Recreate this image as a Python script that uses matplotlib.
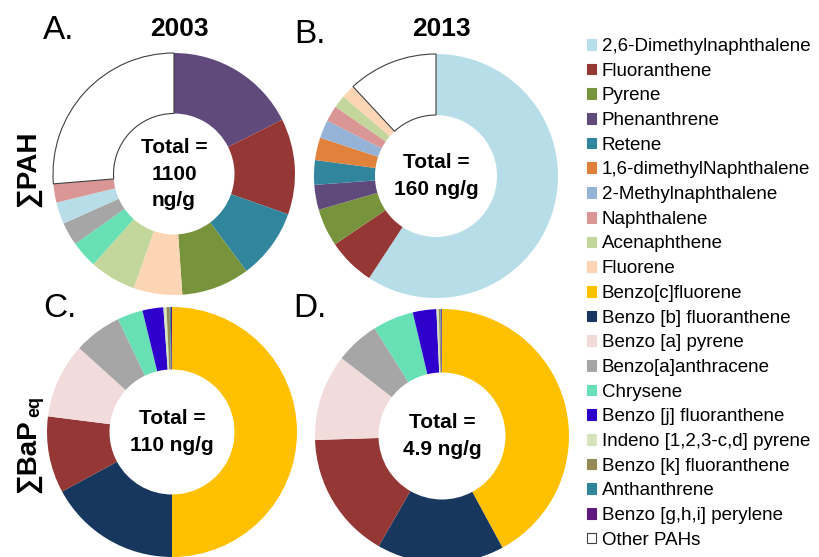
import matplotlib.pyplot as plt
from matplotlib.patches import Patch

plt.rcParams['font.family'] = ['Liberation Sans', 'DejaVu Sans']

# legend order and colours
compounds = ["2,6-Dimethylnaphthalene", "Fluoranthene", "Pyrene", "Phenanthrene",
             "Retene", "1,6-dimethylNaphthalene", "2-Methylnaphthalene", "Naphthalene",
             "Acenaphthene", "Fluorene", "Benzo[c]fluorene", "Benzo [b] fluoranthene",
             "Benzo [a] pyrene", "Benzo[a]anthracene", "Chrysene", "Benzo [j] fluoranthene",
             "Indeno [1,2,3-c,d] pyrene", "Benzo [k] fluoranthene", "Anthanthrene",
             "Benzo [g,h,i] perylene", "Other PAHs"]
colors = ["#b7dee8", "#953735", "#77933c", "#604a7b", "#31859c", "#e0823c", "#95b3d7",
          "#d99694", "#c3d69b", "#fcd5b5", "#ffc000", "#17375e", "#f2dcdb", "#a6a6a6",
          "#66e0b4", "#2e00cc", "#d7e4bd", "#948a54", "#31859c", "#5f1a7f", "#ffffff"]

# A. sum PAH 2003 (% of total)
a_names = ["Phenanthrene", "Fluoranthene", "Retene", "Pyrene", "Fluorene", "Acenaphthene",
           "Chrysene", "Benzo[a]anthracene", "2,6-Dimethylnaphthalene", "Naphthalene",
           "Other PAHs"]
a_values = [17.6, 12.8, 9.4, 9.1, 6.5, 6.2, 3.6, 3.1, 2.9, 2.5, 26.3]

# B. sum PAH 2013
b_names = ["2,6-Dimethylnaphthalene", "Fluoranthene", "Pyrene", "Phenanthrene", "Retene",
           "1,6-dimethylNaphthalene", "2-Methylnaphthalene", "Naphthalene", "Acenaphthene",
           "Fluorene", "Other PAHs"]
b_values = [59.2, 6.3, 5.0, 3.3, 3.25, 3.0, 2.4, 2.1, 1.7, 1.8, 11.9]

# C. sum BaPeq 2003
c_names = ["Benzo[c]fluorene", "Benzo [b] fluoranthene", "Fluoranthene", "Benzo [a] pyrene",
           "Benzo[a]anthracene", "Chrysene", "Benzo [j] fluoranthene",
           "Indeno [1,2,3-c,d] pyrene", "Benzo [k] fluoranthene", "Anthanthrene",
           "Benzo [g,h,i] perylene"]
c_values = [50.0, 17.1, 9.9, 9.7, 6.2, 3.3, 2.7, 0.4, 0.4, 0.15, 0.15]

# D. sum BaPeq 2013
d_names = c_names
d_values = [42.1, 16.2, 16.2, 11.0, 5.6, 5.2, 3.0, 0.3, 0.2, 0.1, 0.1]

totals = ["Total =\n1100\nng/g", "Total =\n160 ng/g", "Total =\n110 ng/g", "Total =\n4.9 ng/g"]

color_of = dict(zip(compounds, colors))

W, H = 820, 557
fig = plt.figure(figsize=(8.2, 5.57), dpi=100)

# (center x, center y, radius) in pixels from top-left
panels = [(174, 174, 121, a_names, a_values, totals[0]),
          (436, 176, 122, b_names, b_values, totals[1]),
          (172, 432, 125, c_names, c_values, totals[2]),
          (442, 436, 127, d_names, d_values, totals[3])]

for cx, cy, r, names, vals, total in panels:
    ax = fig.add_axes([(cx - r) / W, (H - cy - r) / H, 2 * r / W, 2 * r / H])
    wedges, _ = ax.pie(vals, colors=[color_of[n] for n in names], startangle=90,
                       counterclock=False, radius=1,
                       wedgeprops=dict(width=0.5, linewidth=0))
    for w, n in zip(wedges, names):
        w.set_clip_on(False)
        if n == "Other PAHs":
            w.set_edgecolor("#404040")
            w.set_linewidth(0.8)
    ax.set_xlim(-1, 1)
    ax.set_ylim(-1, 1)
    ax.axis('off')
    ax.text(0, 0, total, ha='center', va='center', fontsize=15, fontweight='bold',
            linespacing=1.5)

# panel letters and years
for x, y, s in [(43, 39, "A."), (294, 43, "B."), (43, 317, "C."), (293, 317, "D.")]:
    fig.text(x / W, 1 - y / H, s, fontsize=24, ha='left', va='baseline')
fig.text(179 / W, 1 - 36 / H, "2003", fontsize=19, fontweight='bold', ha='center', va='baseline')
fig.text(441 / W, 1 - 36 / H, "2013", fontsize=19, fontweight='bold', ha='center', va='baseline')

# row labels
fig.text(28 / W, 1 - 169 / H, "∑PAH", fontsize=20, fontweight='bold', rotation=90,
         ha='center', va='center')
bap = fig.text(28 / W, 1 - 493 / H, "∑BaP", fontsize=20, fontweight='bold', rotation=90,
               ha='center', va='bottom')
renderer = fig.canvas.get_renderer()
bb = bap.get_window_extent(renderer).transformed(fig.transFigure.inverted())
fig.text(bb.x1 + 2 / W, bb.y1 + 2 / H, "eq", fontsize=13, fontweight='bold', rotation=90,
         ha='right', va='bottom')

handles = [Patch(facecolor=c, edgecolor=('#404040' if n == "Other PAHs" else c), linewidth=0.8)
           for n, c in zip(compounds, colors)]
fig.legend(handles, compounds, loc='upper left', bbox_to_anchor=(587 / W, 1 - 38 / H),
           frameon=False, fontsize=13.5, handlelength=0.5, handleheight=0.5,
           handletextpad=0.3, labelspacing=0.41, borderaxespad=0, borderpad=0)

fig.savefig("out.png", dpi=100)
